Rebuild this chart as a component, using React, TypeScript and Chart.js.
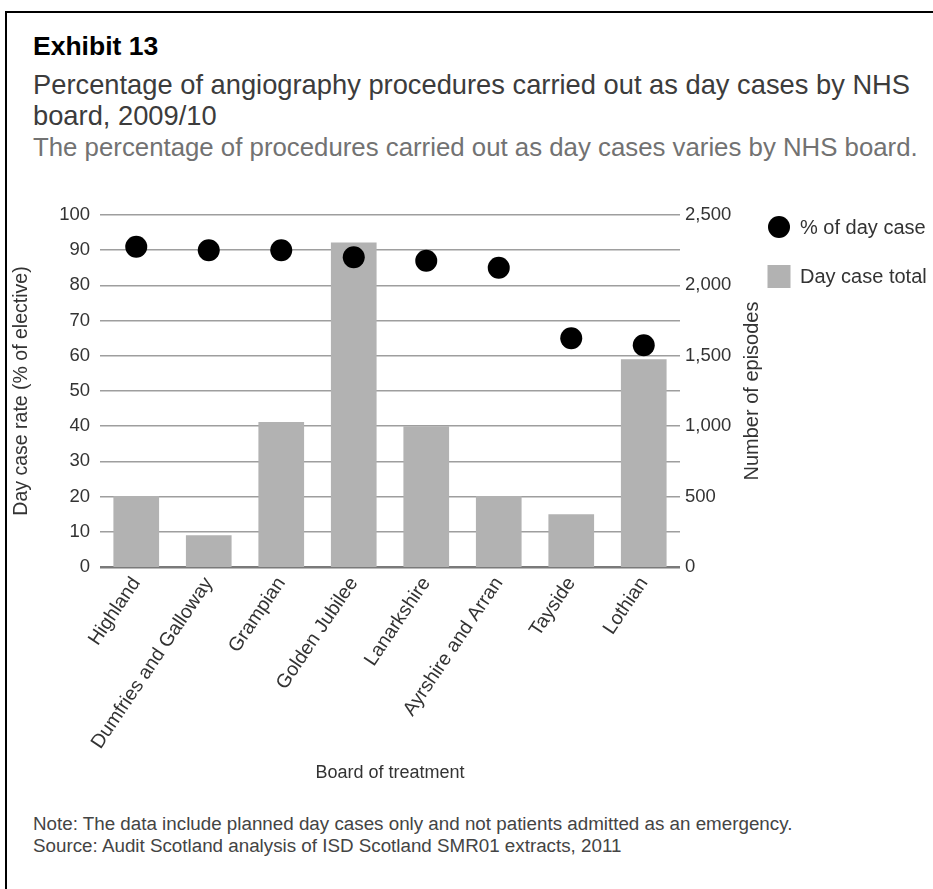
import { useEffect, useRef } from 'react';
import { Chart, registerables } from 'chart.js';

Chart.register(...registerables);

const FONT = '"Liberation Sans", Arial, Helvetica, sans-serif';
const TEXT = '#333';

const boards = [
  'Highland',
  'Dumfries and Galloway',
  'Grampian',
  'Golden Jubilee',
  'Lanarkshire',
  'Ayrshire and Arran',
  'Tayside',
  'Lothian',
];
// % of elective procedures done as day cases (left axis)
const dayCasePct = [91, 90, 90, 88, 87, 85, 65, 63];
// number of day case episodes (right axis)
const dayCaseTotal = [505, 225, 1030, 2305, 1000, 505, 375, 1475];

const seriesLabels = ['% of day case', 'Day case total'];
const leftTitle = 'Day case rate (% of elective)';
const rightTitle = 'Number of episodes';
const xTitle = 'Board of treatment';

// canvas sits at page (0, 180), 933 x 620
const CANVAS_TOP = 180;

// right axis title reads bottom-to-top, and the legend sits beside it
const sidePlugin = {
  id: 'sideText',
  afterDraw(chart: Chart) {
    const { ctx, chartArea } = chart;
    const ds = chart.data.datasets as any[];
    ctx.save();
    ctx.font = `20px ${FONT}`;
    ctx.fillStyle = TEXT;
    ctx.textAlign = 'center';
    ctx.textBaseline = 'middle';
    ctx.translate(752, (chartArea.top + chartArea.bottom) / 2);
    ctx.rotate(-Math.PI / 2);
    ctx.fillText(rightTitle, 0, 0);
    ctx.restore();

    const lx = 779;
    const y0 = 227 - CANVAS_TOP;
    const y1 = 276.5 - CANVAS_TOP;
    ctx.save();
    ctx.fillStyle = ds[0].pointBackgroundColor;
    ctx.beginPath();
    ctx.arc(lx, y0, 11, 0, Math.PI * 2);
    ctx.fill();
    ctx.fillStyle = ds[1].backgroundColor;
    ctx.fillRect(lx - 11.5, y1 - 11.5, 23, 23);
    ctx.font = `20px ${FONT}`;
    ctx.fillStyle = TEXT;
    ctx.textAlign = 'left';
    ctx.textBaseline = 'middle';
    ctx.fillText(ds[0].label, 800, y0 + 1);
    ctx.fillText(ds[1].label, 800, y1 + 1);
    ctx.restore();
  },
};

function ExhibitChart() {
  const canvasRef = useRef<HTMLCanvasElement>(null);

  useEffect(() => {
    if (!canvasRef.current) return;
    const chart = new Chart(canvasRef.current, {
      type: 'bar',
      data: {
        labels: boards,
        datasets: [
          {
            type: 'line',
            label: seriesLabels[0],
            data: dayCasePct,
            yAxisID: 'y',
            showLine: false,
            pointRadius: 11,
            pointHoverRadius: 11,
            pointBorderWidth: 0,
            pointBackgroundColor: '#000',
            backgroundColor: '#000',
            order: 0,
          },
          {
            type: 'bar',
            label: seriesLabels[1],
            data: dayCaseTotal,
            yAxisID: 'y1',
            backgroundColor: '#b2b2b2',
            barPercentage: 0.63,
            categoryPercentage: 1,
            order: 1,
          },
        ] as any,
      },
      options: {
        animation: false,
        responsive: true,
        maintainAspectRatio: false,
        // plot area: x 100..680, y 215..567 on the page
        layout: { padding: { top: 35, right: 183, bottom: 3, left: 0 } },
        plugins: {
          legend: { display: false },
          tooltip: { enabled: false },
        },
        scales: {
          x: {
            grid: { display: false, drawTicks: false },
            border: { display: false },
            ticks: {
              color: TEXT,
              font: { size: 19.5, family: FONT },
              minRotation: 56,
              maxRotation: 56,
              autoSkip: false,
              padding: 6,
            },
            title: {
              display: true,
              text: xTitle,
              color: TEXT,
              font: { size: 18, family: FONT },
              padding: { top: 0, bottom: 13 },
            },
            afterFit: (s: any) => {
              s.height = 230;
              s.paddingLeft = 0;
              s.paddingRight = 0;
            },
          },
          y: {
            position: 'left',
            min: 0,
            max: 100,
            ticks: {
              stepSize: 10,
              color: TEXT,
              font: { size: 18.5, family: FONT },
              padding: 10,
            },
            grid: {
              drawTicks: false,
              color: (c: any) => (c.tick && c.tick.value === 0 ? '#7a7a7a' : '#9e9e9e'),
              lineWidth: (c: any) => (c.tick && c.tick.value === 0 ? 2.5 : 1.5),
            },
            border: { display: false },
            title: {
              display: true,
              text: leftTitle,
              color: TEXT,
              font: { size: 19.5, family: FONT },
              padding: { top: 10.3, bottom: 0 },
            },
            afterFit: (s: any) => {
              s.width = 100;
              s.paddingTop = 0;
              s.paddingBottom = 0;
            },
          },
          y1: {
            position: 'right',
            min: 0,
            max: 2500,
            ticks: {
              stepSize: 500,
              color: TEXT,
              font: { size: 18.5, family: FONT },
              padding: 5,
              callback: (v: any) => Number(v).toLocaleString('en-US'),
            },
            grid: { display: false, drawTicks: false },
            border: { display: false },
            afterFit: (s: any) => {
              s.width = 70;
              s.paddingTop = 0;
              s.paddingBottom = 0;
            },
          },
        },
      },
      plugins: [sidePlugin],
    });
    return () => chart.destroy();
  }, []);

  return (
    <div style={{ position: 'absolute', left: 0, top: CANVAS_TOP, width: 933, height: 620 }}>
      <canvas ref={canvasRef} />
    </div>
  );
}

export default function App() {
  const text = { position: 'absolute' as const, left: 33, margin: 0, whiteSpace: 'nowrap' as const, fontFamily: FONT };
  return (
    <div style={{ position: 'absolute', left: 0, top: 0, width: 933, height: 889, background: '#fff', overflow: 'hidden' }}>
      <div style={{ position: 'absolute', left: 4.5, top: 11, right: 0, bottom: 0, borderTop: '2.5px solid #000', borderLeft: '2.5px solid #000' }} />
      <div style={{ ...text, top: 33.3, fontSize: 26.5, lineHeight: '27px', fontWeight: 'bold', color: '#000' }}>Exhibit 13</div>
      <div style={{ ...text, top: 69, fontSize: 27.3, lineHeight: '31px', color: '#3c3c3c' }}>
        Percentage of angiography procedures carried out as day cases by NHS
        <br />
        board, 2009/10
      </div>
      <div style={{ ...text, top: 131.6, fontSize: 25.8, lineHeight: '31px', color: '#727272' }}>
        The percentage of procedures carried out as day cases varies by NHS board.
      </div>
      <ExhibitChart />
      <div style={{ ...text, top: 813.4, fontSize: 18.8, lineHeight: '22px', color: '#444' }}>
        Note: The data include planned day cases only and not patients admitted as an emergency.
        <br />
        Source: Audit Scotland analysis of ISD Scotland SMR01 extracts, 2011
      </div>
    </div>
  );
}
